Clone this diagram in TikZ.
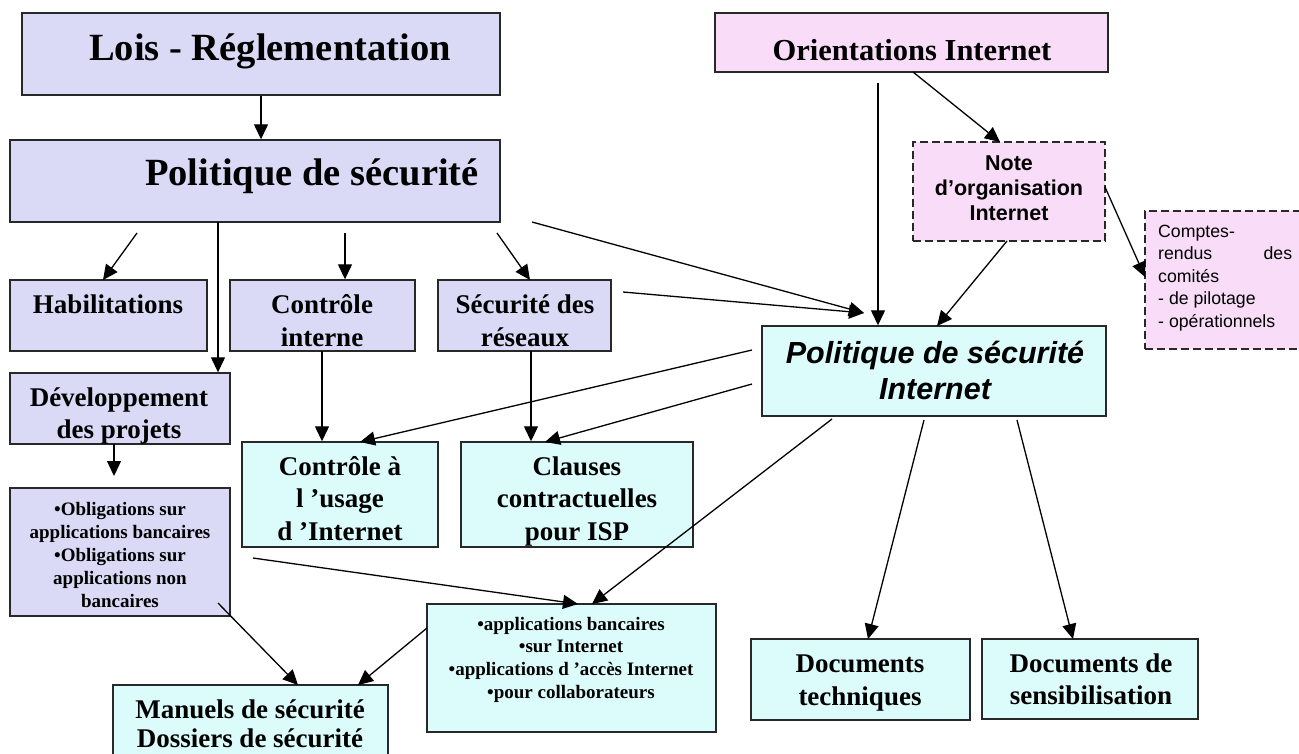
\documentclass[tikz,border=0pt]{standalone}
\usepackage{fontspec}
\setmainfont{Liberation Serif}
\newfontfamily\ari{Liberation Sans}
\usetikzlibrary{arrows.meta}
\definecolor{lav}{RGB}{218,218,246}
\definecolor{pnk}{RGB}{248,220,248}
\definecolor{cyn}{RGB}{220,252,252}
\definecolor{edgec}{RGB}{40,40,40}
\newcommand{\mytab}[1]{\begin{tabular}[t]{@{}c@{}}#1\end{tabular}}
\newcommand{\myfs}[2]{\fontsize{#1}{#2}\selectfont}
\tikzset{
  bx/.style={draw=edgec, line width=1.4pt, inner sep=0pt, rectangle},
  pbox/.style={bx, fill=lav},
  kbox/.style={bx, fill=pnk},
  dbox/.style={bx, fill=pnk, dash pattern=on 8pt off 4pt},
  cbox/.style={bx, fill=cyn},
  txt/.style={inner sep=0pt, anchor=base},
  arr/.style={draw=black, line width=1.3pt, -{Triangle[length=15pt,width=14pt]}},
}
\begin{document}
\begin{tikzpicture}[x=1pt,y=-1pt]
\useasboundingbox (0,0) rectangle (1299,753);
\fill[white] (0,0) rectangle (1299,753);

% boxes
\node[pbox, minimum width=478pt, minimum height=82pt] (lois) at (261,54) {};
\node[kbox, minimum width=393pt, minimum height=59pt] (ori) at (911.5,42.5) {};
\node[pbox, minimum width=490pt, minimum height=82pt] (pol) at (255,181) {};
\node[dbox, minimum width=192pt, minimum height=99pt] (note) at (1009,191.5) {};
\node[dbox, minimum width=165pt, minimum height=138pt] (cr) at (1227.5,280) {};
\node[pbox, minimum width=197pt, minimum height=71pt] (hab) at (108.5,315.5) {};
\node[pbox, minimum width=185pt, minimum height=71pt] (ci) at (322.5,315.5) {};
\node[pbox, minimum width=173pt, minimum height=71pt] (sr) at (524.5,315.5) {};
\node[cbox, minimum width=344pt, minimum height=90pt] (psi) at (934,371) {};
\node[pbox, minimum width=220pt, minimum height=71pt] (dev) at (120,408.5) {};
\node[pbox, minimum width=220pt, minimum height=128pt] (obl) at (120,552) {};
\node[cbox, minimum width=196pt, minimum height=105pt] (cu) at (340,494.5) {};
\node[cbox, minimum width=232pt, minimum height=105pt] (cl) at (577,494.5) {};
\node[cbox, minimum width=289pt, minimum height=128pt] (app) at (571.5,668) {};
\node[cbox, minimum width=219pt, minimum height=81pt] (dt) at (860.5,679.5) {};
\node[cbox, minimum width=216pt, minimum height=80pt] (ds) at (1090,679) {};
\node[cbox, minimum width=275pt, minimum height=85pt] (man) at (250.5,727.5) {};

% texts
\node[txt] (loist) at (270,60) {\bfseries\myfs{38.5}{44}Lois - Réglementation};
\node[txt] (polt) at (312,185) {\bfseries\myfs{38.5}{44}Politique de sécurité};
\node[txt] (orit) at (912,60) {\bfseries\myfs{30.5}{36}Orientations Internet};
\node[txt] (habt) at (108,313) {\bfseries\myfs{27}{33}Habilitations};
\node[txt] (cit) at (322,313) {\bfseries\myfs{27}{33}\mytab{Contrôle\\interne}};
\node[txt] (srt) at (525,313) {\bfseries\myfs{27}{33}\mytab{Sécurité des\\réseaux}};
\node[txt] (devt) at (119,406) {\bfseries\myfs{27}{32}\mytab{Développement\\des projets}};
\node[txt] (cut) at (340,475) {\bfseries\myfs{27}{32.5}\mytab{Contrôle à\\l ’usage\\d ’Internet}};
\node[txt] (clt) at (577,475) {\bfseries\myfs{27}{32.5}\mytab{Clauses\\contractuelles\\pour ISP}};
\node[txt] (oblt) at (120,515) {\bfseries\myfs{19}{23}\mytab{•Obligations sur\\applications bancaires\\•Obligations sur\\applications non\\bancaires}};
\node[txt] (appt) at (571,630) {\bfseries\myfs{19}{22.7}\mytab{•applications bancaires\\•sur Internet\\•applications d ’accès Internet\\•pour collaborateurs}};
\node[txt] (dtt) at (860,672) {\bfseries\myfs{27}{33}\mytab{Documents\\techniques}};
\node[txt] (dst) at (1091,672) {\bfseries\myfs{27}{32}\mytab{Documents de\\sensibilisation}};
\node[txt] (mant) at (250,718) {\bfseries\myfs{27}{29}\mytab{Manuels de sécurité\\Dossiers de sécurité}};
\node[txt] (psit) at (935,363) {\ari\bfseries\itshape\myfs{30.5}{36}\mytab{Politique de sécurité\\Internet}};
\node[txt] (notet) at (1009,170) {\ari\bfseries\myfs{21.5}{25}\mytab{Note\\d’organisation\\Internet}};
\node[txt, anchor=base west] (crt) at (1158,237) {\ari\myfs{17.7}{22.5}\begin{tabular}[t]{@{}l@{}}Comptes-\\ \hbox to 134pt{rendus\hfill des}\\ comités\\ - de pilotage\\ - opérationnels\end{tabular}};

% connector end points
\coordinate (b1) at (137,233);  \coordinate (b2) at (103,280);
\coordinate (c1) at (218,222);
\coordinate (d1) at (345,233);
\coordinate (e1) at (497,233);  \coordinate (e2) at (530,280);
\coordinate (f1) at (532,222);  \coordinate (f2) at (864,313);
\coordinate (g1) at (623,292);
\coordinate (h1) at (878,83);
\coordinate (i1) at (913,72);   \coordinate (i2) at (1000,142);
\coordinate (j1) at (1007,241); \coordinate (j2) at (937,326);
\coordinate (k1) at (1105,187); \coordinate (k2) at (1145,277);
\coordinate (l1) at (752,350);  \coordinate (l2) at (360,442);
\coordinate (m1) at (752,384);  \coordinate (m2) at (545,442);
\coordinate (n1) at (322,351);
\coordinate (o1) at (531,351);
\coordinate (p1) at (114,444);  \coordinate (p2) at (114,476);
\coordinate (q1) at (253,558);  \coordinate (q2) at (578,604);
\coordinate (r1) at (832,419);  \coordinate (r2) at (592,604);
\coordinate (s1) at (924,420);  \coordinate (s2) at (868,639);
\coordinate (t1) at (1017,420); \coordinate (t2) at (1073,639);
\coordinate (u1) at (218,603);  \coordinate (u2) at (298,685);
\coordinate (v1) at (427,628);  \coordinate (v2) at (358,685);

% connectors
\draw[arr] (lois.south) -- (lois.south |- pol.north);
\draw[arr] (b1) -- (b2);
\draw[arr] (c1) -- (c1 |- dev.north);
\draw[arr] (d1) -- (d1 |- ci.north);
\draw[arr] (e1) -- (e2);
\draw[arr] (f1) -- (f2);
\draw[arr] (g1) -- (f2);
\draw[arr] (h1) -- (h1 |- psi.north);
\draw[arr] (i1) -- (i2);
\draw[arr] (j1) -- (j2);
\draw[arr] (k1) -- (k2);
\draw[arr] (l1) -- (l2);
\draw[arr] (m1) -- (m2);
\draw[arr] (n1) -- (n1 |- cu.north);
\draw[arr] (o1) -- (o1 |- cl.north);
\draw[arr] (p1) -- (p2);
\draw[arr] (q1) -- (q2);
\draw[arr] (r1) -- (r2);
\draw[arr] (s1) -- (s2);
\draw[arr] (t1) -- (t2);
\draw[arr] (u1) -- (u2);
\draw[arr] (v1) -- (v2);
\end{tikzpicture}
\end{document}
